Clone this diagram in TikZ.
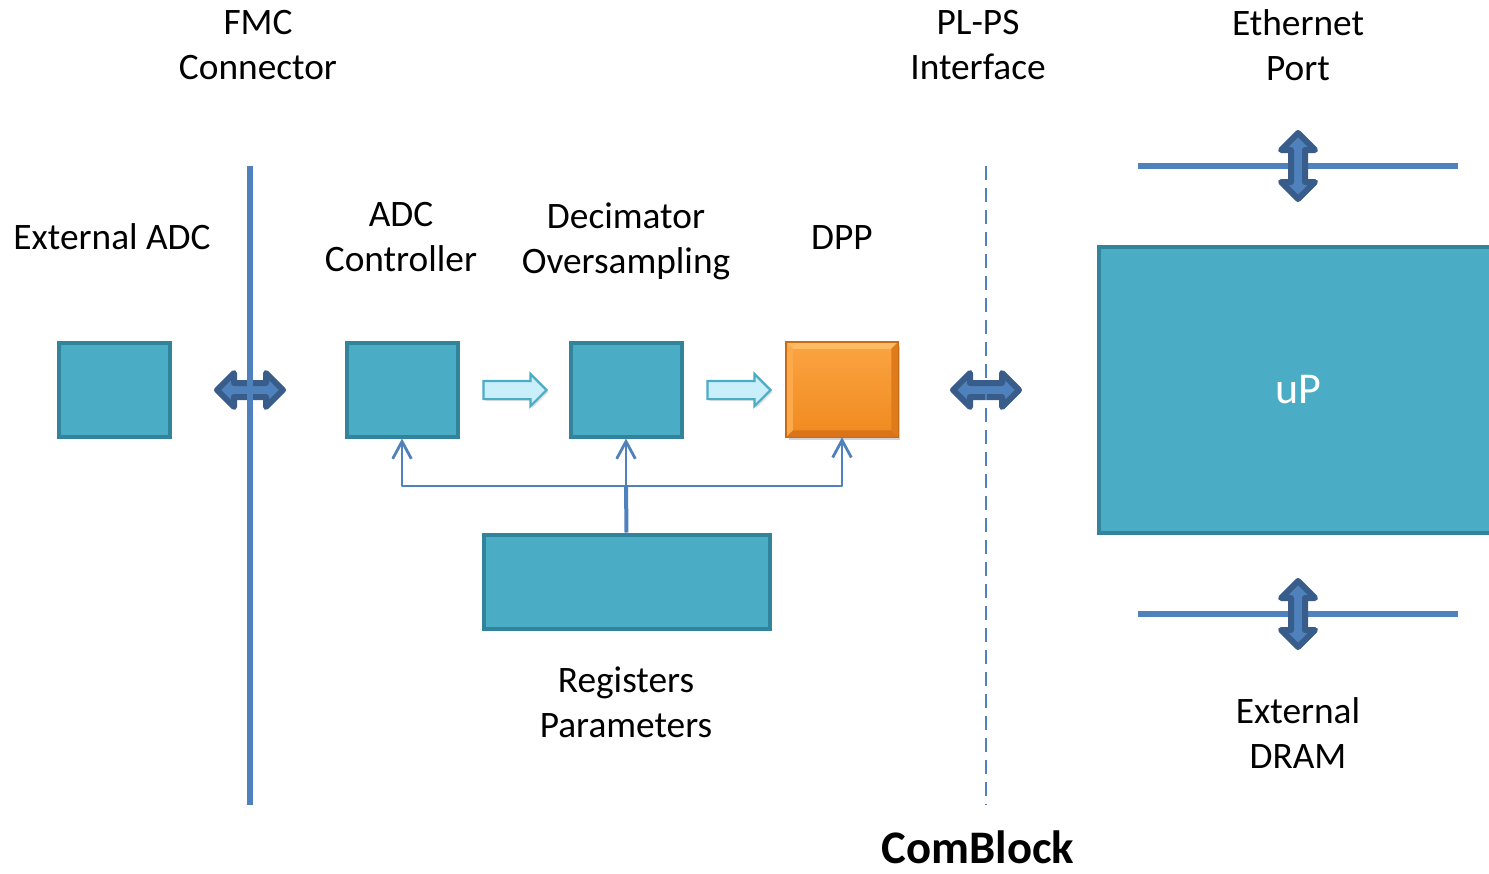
\documentclass[tikz,border=0pt]{standalone}
\usepackage{fontspec}
\setmainfont{Carlito}
\usetikzlibrary{arrows.meta,shapes.arrows,shadows}
\newdimen\pxu \pxu=0.75pt
\definecolor{boxfill}{HTML}{4BACC6}
\definecolor{boxdraw}{HTML}{31849B}
\definecolor{lineblue}{HTML}{4F81BD}
\definecolor{darkblue}{HTML}{385D8A}
\definecolor{arrowfill}{HTML}{C9EFFB}
\definecolor{orangetop}{HTML}{FBA443}
\definecolor{orangebot}{HTML}{F08A1E}
\definecolor{orangedraw}{HTML}{C96A14}
\definecolor{orangelight}{HTML}{FDBB66}
\definecolor{orangedark}{HTML}{D9741A}
\begin{document}
\begin{tikzpicture}[x=0.75pt,y=-0.75pt,
  blk/.style={draw=boxdraw, fill=boxfill, line width=4\pxu, inner sep=0pt},
  lbl/.style={font=\fontsize{28}{33.75}\selectfont, align=center, inner sep=0pt},
  conn/.style={draw=lineblue, line width=2.8\pxu},
  tip/.style={-{Straight Barb[length=13pt,width=14pt]}},
  flow/.style={single arrow, draw=boxfill, fill=arrowfill, line width=2.2\pxu,
    minimum height=63\pxu, minimum width=30\pxu, inner ysep=8\pxu, inner xsep=0pt,
    single arrow head extend=7\pxu, drop shadow={opacity=0.25, shadow xshift=1.5pt, shadow yshift=-1.5pt}},
  dbl/.pic={\draw[line width=6\pxu, draw=darkblue, fill=lineblue, line join=round]
     (-33,0) -- (-16,-17) -- (-16,-7) -- (16,-7) -- (16,-17) -- (33,0)
     -- (16,17) -- (16,7) -- (-16,7) -- (-16,17) -- cycle;}
]
\clip (0,0) rectangle (1489,874);

% labels
\node[lbl] (fmclbl) at (258,45.5) {FMC\\Connector};
\node[lbl] (plpslbl) at (978,45.5) {PL-PS\\Interface};
\node[lbl] (ethlbl) at (1298,45.5) {Ethernet\\Port};
\node[lbl] (extlbl) at (112,237) {External ADC};
\node[lbl] (adclbl) at (401,237.5) {ADC\\Controller};
\node[lbl] (declbl) at (626,241) {Decimator\\Oversampling};
\node[lbl] (dpplbl) at (842,238) {DPP};
\node[lbl] (reglbl) at (626,702) {Registers\\Parameters};
\node[lbl] (dramlbl) at (1298,733.5) {External\\DRAM};
\node[font=\fontsize{35}{40}\selectfont\bfseries, inner sep=0pt] (comblock) at (978,847) {ComBlock};

% FMC connector
\pic at (250,390) {dbl};
\coordinate (fmctop) at (250,166);
\coordinate (fmcbot) at (250,805);
\draw[lineblue, line width=6\pxu] (fmctop) -- (fmcbot);

% PL-PS interface
\pic at (986,390) {dbl};
\coordinate (pltop) at (986,166);
\coordinate (plbot) at (986,805);
\draw[lineblue, line width=2\pxu, dash pattern=on 10.5pt off 6pt] (pltop) -- (plbot);

% Ethernet and DRAM ports
\coordinate (ethL) at (1138,166);
\coordinate (ethR) at (1458,166);
\draw[lineblue, line width=6\pxu] (ethL) -- (ethR);
\pic[rotate=90] at (1298,166) {dbl};
\coordinate (dramL) at (1138,614);
\coordinate (dramR) at (1458,614);
\draw[lineblue, line width=6\pxu] (dramL) -- (dramR);
\pic[rotate=90] at (1298,614) {dbl};

% blocks
\node[blk, minimum width=111\pxu, minimum height=94\pxu] (ext) at (114,389.5) {};
\node[blk, minimum width=111\pxu, minimum height=94\pxu] (adc) at (402,389.5) {};
\node[blk, minimum width=111\pxu, minimum height=94\pxu] (dec) at (626,389.5) {};
\node[blk, minimum width=286\pxu, minimum height=94\pxu] (reg) at (626.5,581.5) {};
\node[blk, minimum width=398\pxu, minimum height=286\pxu, text=white,
      font=\fontsize{33}{38}\selectfont] (up) at (1298,389.5) {uP};

% DPP (orange bevelled)
\node[draw=orangedraw, line width=1.5\pxu, top color=orangetop, bottom color=orangebot,
      minimum width=111\pxu, minimum height=94\pxu, inner sep=0pt,
      drop shadow={opacity=0.35, shadow xshift=2pt, shadow yshift=-2.5pt}] (dpp) at (842,389.5) {};
\fill[orangelight] (dpp.north west) -- (dpp.north east) -- ([shift={(-7,7)}]dpp.north east) -- ([shift={(7,7)}]dpp.north west) -- cycle;
\fill[orangedark] (dpp.south west) -- (dpp.south east) -- ([shift={(-7,-7)}]dpp.south east) -- ([shift={(7,-7)}]dpp.south west) -- cycle;
\fill[orangedark!70!orangebot] (dpp.north east) -- (dpp.south east) -- ([shift={(-7,-7)}]dpp.south east) -- ([shift={(-7,7)}]dpp.north east) -- cycle;
\fill[orangetop!80!orangelight] (dpp.north west) -- (dpp.south west) -- ([shift={(7,-7)}]dpp.south west) -- ([shift={(7,7)}]dpp.north west) -- cycle;
\draw[orangedraw, line width=1.5\pxu] (dpp.north west) rectangle (dpp.south east);

% flow arrows
\node[flow] (f1) at (510.5,390) {};
\node[flow] (f2) at (734.5,390) {};

% register connections
\coordinate (bus) at (626,486);
\draw[conn, line width=4\pxu] (reg.north) -- (bus);
\draw[conn, tip] (bus) -- (dec.south);
\draw[conn, tip, line join=round] (bus) -- (adc.south |- bus) -- (adc.south);
\draw[conn, tip, line join=round] (bus) -- (dpp.south |- bus) -- (dpp.south);
\end{tikzpicture}
\end{document}
